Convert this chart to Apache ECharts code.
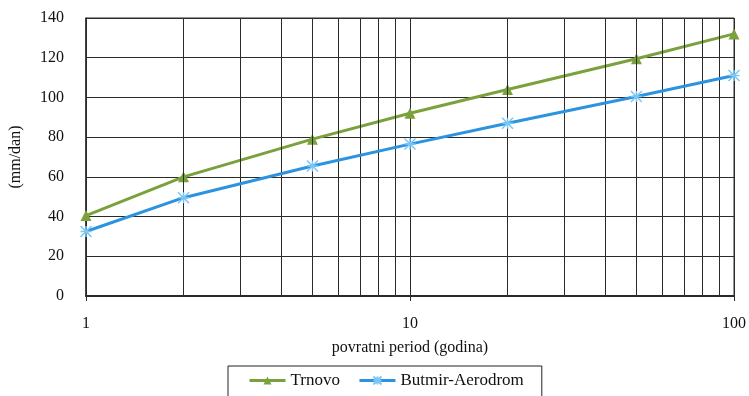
<!DOCTYPE html>
<html><head><meta charset="utf-8">
<script src="https://cdn.jsdelivr.net/npm/echarts@6/dist/echarts.min.js"></script>
<style>html,body{margin:0;padding:0;background:#fff}#c{width:749px;height:396px}</style>
</head><body><div id="c"></div>
<script>
const periods = [1, 2, 5, 10, 20, 50, 100];
const trnovo = [40.5, 60, 79, 92, 104, 119.5, 132];
const butmir = [32.5, 49.5, 65.5, 76.5, 87, 100.5, 111];
const minorGrid = [2, 3, 4, 5, 6, 7, 8, 9, 20, 30, 40, 50, 60, 70, 80, 90];
const yTicks = [0, 20, 40, 60, 80, 100, 120, 140];

const font = '"Liberation Serif", "DejaVu Serif", serif';
const gridColor = '#2b2b2b';
const green = '#7aa13c';
const blue = '#2b93e0';
const starPath = 'path://M0,0L10,10M10,0L0,10M5,0L5,10M0,5L10,5';

const chart = echarts.init(document.getElementById('c'));
chart.setOption({
  animation: false,
  textStyle: { fontFamily: font },
  grid: { left: 85, right: 14, top: 18, bottom: 100, show: true, borderColor: gridColor, borderWidth: 1 },
  legend: {
    top: 366, left: 228, itemGap: 18, itemWidth: 36, itemHeight: 10,
    padding: [6, 18, 12, 20],
    borderColor: '#222', borderWidth: 1,
    lineStyle: { width: 3 },
    textStyle: { fontFamily: font, fontSize: 17, color: '#111' },
    data: ['Trnovo', 'Butmir-Aerodrom']
  },
  xAxis: {
    type: 'log', logBase: 10, min: 1, max: 100,
    name: 'povratni period (godina)', nameLocation: 'middle', nameGap: 44,
    nameTextStyle: { fontFamily: font, fontSize: 16, color: '#111' },
    axisLine: { show: true, lineStyle: { color: gridColor, width: 2 } },
    axisTick: { show: true, length: 5, lineStyle: { color: gridColor } },
    axisLabel: { fontFamily: font, fontSize: 16, color: '#111', margin: 20 },
    splitLine: { show: true, lineStyle: { color: gridColor, width: 1 } }
  },
  yAxis: {
    type: 'value', min: yTicks[0], max: yTicks[yTicks.length - 1], interval: 20,
    name: '(mm/dan)', nameLocation: 'middle', nameGap: 62,
    nameTextStyle: { fontFamily: font, fontSize: 16, color: '#111' },
    axisLine: { show: true, lineStyle: { color: gridColor, width: 1.5 } },
    axisTick: { show: false },
    axisLabel: { fontFamily: font, fontSize: 16, color: '#111', margin: 22 },
    splitLine: { show: true, lineStyle: { color: gridColor, width: 1 } }
  },
  series: [
    {
      name: 'Trnovo', type: 'line',
      data: periods.map((p, i) => [p, trnovo[i]]),
      symbol: 'triangle', symbolSize: 11,
      itemStyle: { color: green },
      lineStyle: { color: green, width: 3 },
      z: 4,
      markLine: {
        silent: true, symbol: 'none', label: { show: false },
        lineStyle: { color: gridColor, width: 1, type: 'solid' },
        data: minorGrid.map(v => ({ xAxis: v }))
      }
    },
    {
      name: 'Butmir-Aerodrom', type: 'line',
      data: periods.map((p, i) => [p, butmir[i]]),
      symbol: starPath, symbolSize: 11,
      itemStyle: { color: blue, borderColor: '#7cc6f5', borderWidth: 1.5 },
      lineStyle: { color: blue, width: 3 },
      z: 5
    }
  ]
});
</script>
</body></html>
